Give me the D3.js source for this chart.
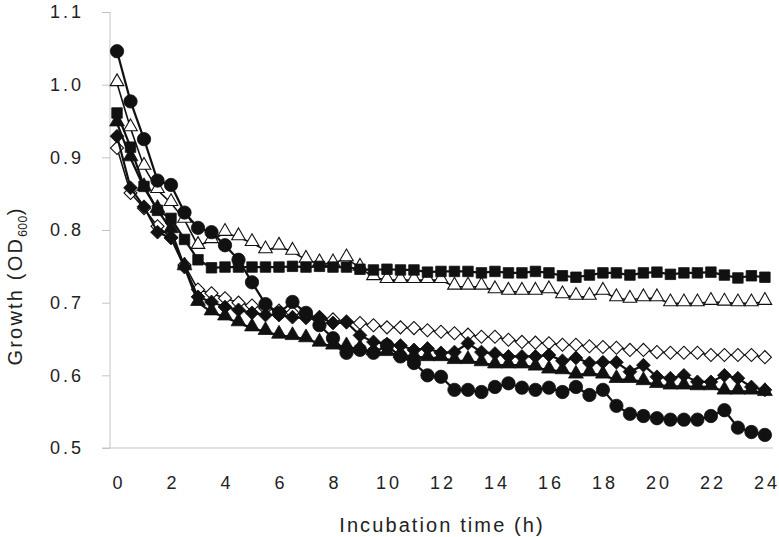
<!DOCTYPE html>
<html>
<head>
<meta charset="utf-8">
<script src="https://cdn.jsdelivr.net/npm/d3@7"></script>
<style>
  body { margin: 0; background: #fff; }
  text { font-family: "Liberation Sans", Arial, sans-serif; fill: #222; }
</style>
</head>
<body>
<svg id="chart" width="779" height="537"></svg>
<script>
// sampling times (h)
var hours = [0, 0.5, 1, 1.5, 2, 2.5, 3, 3.5, 4, 4.5, 5, 5.5, 6, 6.5, 7, 7.5, 8, 8.5, 9, 9.5,
  10, 10.5, 11, 11.5, 12, 12.5, 13, 13.5, 14, 14.5, 15, 15.5, 16, 16.5, 17, 17.5, 18, 18.5, 19, 19.5,
  20, 20.5, 21, 21.5, 22, 22.5, 23, 23.5, 24];

var openTriangle = [1.002, 0.940, 0.887, 0.855, 0.837, 0.814, 0.778, 0.786, 0.796, 0.790, 0.782, 0.772, 0.777, 0.770, 0.759, 0.754, 0.754, 0.761, 0.748, 0.735,
  0.731, 0.731, 0.731, 0.731, 0.731, 0.722, 0.722, 0.722, 0.717, 0.715, 0.715, 0.715, 0.717, 0.710, 0.708, 0.708, 0.715, 0.706, 0.704, 0.706,
  0.706, 0.699, 0.699, 0.699, 0.701, 0.700, 0.699, 0.699, 0.701];

var filledSquare = [0.961, 0.914, 0.860, 0.827, 0.816, 0.787, 0.759, 0.748, 0.749, 0.749, 0.749, 0.749, 0.749, 0.750, 0.749, 0.750, 0.749, 0.749, 0.746, 0.745,
  0.746, 0.745, 0.745, 0.742, 0.743, 0.743, 0.743, 0.741, 0.743, 0.741, 0.741, 0.743, 0.741, 0.737, 0.735, 0.738, 0.741, 0.741, 0.738, 0.741,
  0.742, 0.739, 0.741, 0.741, 0.742, 0.738, 0.734, 0.737, 0.735];

var openDiamond = [0.913, 0.851, 0.830, 0.805, 0.790, 0.752, 0.718, 0.713, 0.706, 0.700, 0.696, 0.692, 0.689, 0.686, 0.683, 0.680, 0.677, 0.674, 0.672, 0.669,
  0.666, 0.666, 0.665, 0.662, 0.660, 0.658, 0.656, 0.653, 0.653, 0.649, 0.646, 0.645, 0.644, 0.642, 0.642, 0.640, 0.639, 0.638, 0.635, 0.635,
  0.632, 0.631, 0.631, 0.631, 0.628, 0.628, 0.628, 0.628, 0.625];

var filledDiamond = [0.929, 0.858, 0.832, 0.797, 0.789, 0.749, 0.708, 0.701, 0.694, 0.690, 0.686, 0.683, 0.683, 0.680, 0.679, 0.680, 0.672, 0.673, 0.655, 0.646,
  0.643, 0.641, 0.635, 0.637, 0.631, 0.632, 0.644, 0.632, 0.630, 0.626, 0.626, 0.626, 0.628, 0.620, 0.624, 0.617, 0.618, 0.618, 0.605, 0.614,
  0.598, 0.596, 0.600, 0.591, 0.591, 0.600, 0.596, 0.584, 0.580];

var filledTriangle = [0.947, 0.899, 0.858, 0.828, 0.800, 0.749, 0.700, 0.687, 0.680, 0.672, 0.665, 0.660, 0.655, 0.653, 0.650, 0.644, 0.640, 0.639, 0.636, 0.632,
  0.631, 0.628, 0.626, 0.624, 0.624, 0.620, 0.620, 0.617, 0.614, 0.614, 0.614, 0.611, 0.607, 0.606, 0.600, 0.603, 0.600, 0.594, 0.594, 0.591,
  0.587, 0.585, 0.585, 0.584, 0.584, 0.578, 0.578, 0.578, 0.576];

var filledCircle = [1.046, 0.977, 0.925, 0.868, 0.862, 0.824, 0.803, 0.797, 0.779, 0.759, 0.728, 0.698, 0.686, 0.701, 0.686, 0.669, 0.651, 0.631, 0.635, 0.631,
  0.641, 0.626, 0.617, 0.600, 0.598, 0.580, 0.580, 0.577, 0.584, 0.589, 0.583, 0.580, 0.583, 0.577, 0.584, 0.573, 0.580, 0.558, 0.547, 0.544,
  0.541, 0.539, 0.539, 0.539, 0.544, 0.552, 0.528, 0.522, 0.518];

var xTicks = [0, 2, 4, 6, 8, 10, 12, 14, 16, 18, 20, 22, 24];
var yTicks = [0.5, 0.6, 0.7, 0.8, 0.9, 1.0, 1.1];

var series = [
  { values: openTriangle, symbol: d3.symbolTriangle, size: 80, open: true, rotate: 0 },
  { values: filledSquare, symbol: d3.symbolSquare, size: 110, open: false, rotate: 0 },
  { values: openDiamond, symbol: d3.symbolSquare, size: 85, open: true, rotate: 45 },
  { values: filledDiamond, symbol: d3.symbolSquare, size: 95, open: false, rotate: 45 },
  { values: filledTriangle, symbol: d3.symbolTriangle, size: 95, open: false, rotate: 0 },
  { values: filledCircle, symbol: d3.symbolCircle, size: 140, open: false, rotate: 0 }
];

var svg = d3.select('#chart');
var axisColor = '#c4c4c4';

var x = d3.scaleLinear().domain([-0.26, 24.3]).range([110, 773]);
var y = d3.scaleLinear().domain([0.5, 1.1]).range([448, 12]);

// y axis line + outward ticks
var yAxis = d3.axisLeft(y).tickValues(yTicks).tickSize(8).tickPadding(18)
  .tickFormat(d3.format('.1f'));
var yg = svg.append('g').attr('transform', 'translate(110,0)').call(yAxis);
yg.select('.domain').attr('stroke', axisColor).attr('d', 'M0,12V448');
yg.selectAll('.tick line').attr('stroke', axisColor);
yg.selectAll('.tick text')
  .style('font-size', '18px')
  .style('letter-spacing', '3px')
  .attr('fill', '#222');

// x axis line, no tick marks
var xAxis = d3.axisBottom(x).tickValues(xTicks).tickSize(0).tickPadding(28);
var xg = svg.append('g').attr('transform', 'translate(0,448)').call(xAxis);
xg.select('.domain').attr('stroke', axisColor).attr('d', 'M102,0H773');
xg.selectAll('.tick text')
  .style('font-size', '18px')
  .style('letter-spacing', '3px')
  .attr('dx', 1.5)
  .attr('fill', '#222');

// axis titles
svg.append('text')
  .attr('x', 442).attr('y', 532)
  .attr('text-anchor', 'middle')
  .style('font-size', '20px')
  .style('letter-spacing', '2.1px')
  .text('Incubation time (h)');

var yt = svg.append('text')
  .attr('transform', 'translate(22,286) rotate(-90)')
  .attr('text-anchor', 'middle')
  .style('font-size', '20px')
  .style('letter-spacing', '2.2px');
yt.append('tspan').text('Growth (OD');
yt.append('tspan').style('font-size', '12px').style('letter-spacing', '0.5px').attr('dy', 5).text('600');
yt.append('tspan').attr('dy', -5).text(')');

var line = d3.line()
  .x(function(d, i) { return x(hours[i]); })
  .y(function(d) { return y(d); });

series.forEach(function(s) {
  var g = svg.append('g');
  g.append('path')
    .datum(s.values)
    .attr('d', line)
    .attr('fill', 'none')
    .attr('stroke', '#111')
    .attr('stroke-width', s.open ? 1.6 : 2.2);

  var shape = d3.symbol().type(s.symbol).size(s.size);
  g.selectAll('.pt')
    .data(s.values)
    .enter().append('path')
    .attr('class', 'pt')
    .attr('d', shape)
    .attr('transform', function(d, i) {
      var ty = s.symbol === d3.symbolTriangle ? 1.5 : 0;
      return 'translate(' + x(hours[i]) + ',' + (y(d) - ty) + ') rotate(' + s.rotate + ')';
    })
    .attr('fill', s.open ? '#fff' : '#111')
    .attr('stroke', '#111')
    .attr('stroke-width', s.open ? 1.1 : 0.8);
});
</script>
</body>
</html>
